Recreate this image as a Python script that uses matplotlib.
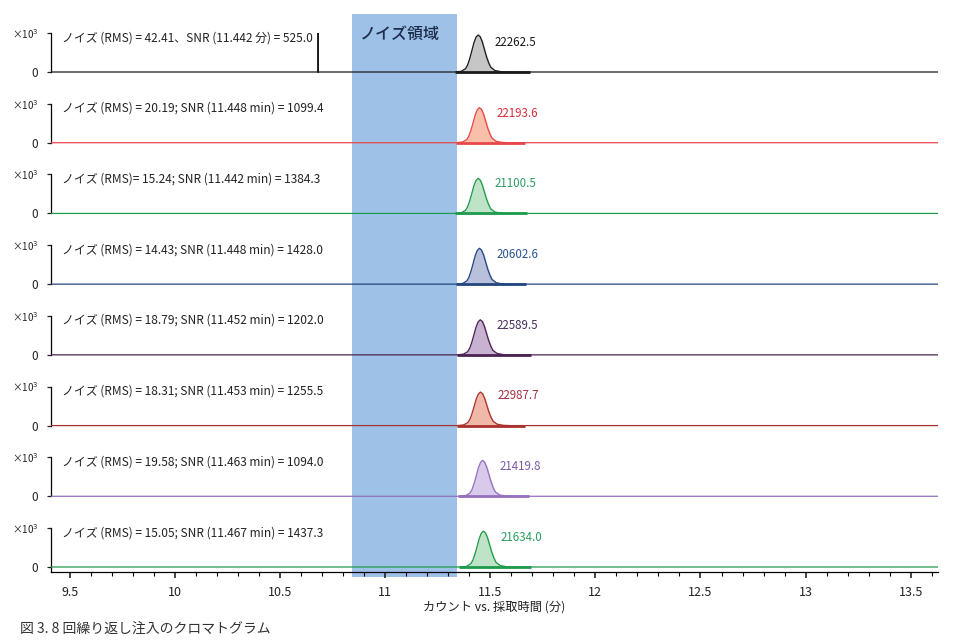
import matplotlib
matplotlib.use("Agg")
import matplotlib.pyplot as plt
import matplotlib.patches as mpatches
import matplotlib.ticker as ticker
from matplotlib.transforms import blended_transform_factory

plt.rcParams["font.family"] = ["Noto Sans CJK JP", "DejaVu Sans"]

# ---- data ------------------------------------------------------------
noise_texts = [
    "ノイズ (RMS) = 42.41、SNR (11.442 分) = 525.0",
    "ノイズ (RMS) = 20.19; SNR (11.448 min) = 1099.4",
    "ノイズ (RMS)= 15.24; SNR (11.442 min) = 1384.3",
    "ノイズ (RMS) = 14.43; SNR (11.448 min) = 1428.0",
    "ノイズ (RMS) = 18.79; SNR (11.452 min) = 1202.0",
    "ノイズ (RMS) = 18.31; SNR (11.453 min) = 1255.5",
    "ノイズ (RMS) = 19.58; SNR (11.463 min) = 1094.0",
    "ノイズ (RMS) = 15.05; SNR (11.467 min) = 1437.3",
]
peak_areas = ["22262.5", "22193.6", "21100.5", "20602.6",
              "22589.5", "22987.7", "21419.8", "21634.0"]
apex_times = [11.442, 11.448, 11.442, 11.448, 11.452, 11.453, 11.463, 11.467]
peak_heights = [0.95, 0.90, 0.90, 0.92, 0.90, 0.86, 0.92, 0.92]   # x10^3
int_start = [11.330, 11.336, 11.334, 11.338, 11.340, 11.341, 11.348, 11.352]
int_end = [11.690, 11.665, 11.675, 11.670, 11.695, 11.665, 11.685, 11.695]

# peak profile (offset from apex in min, relative height)
peak_dt = [-0.11, -0.08, -0.06, -0.05, -0.04, -0.03, -0.02, -0.01, 0.0,
           0.01, 0.02, 0.03, 0.04, 0.05, 0.06, 0.08, 0.11, 0.14]
peak_rel = [0.0, 0.02, 0.09, 0.19, 0.36, 0.57, 0.79, 0.94, 1.0,
            0.95, 0.81, 0.61, 0.41, 0.25, 0.13, 0.04, 0.008, 0.0]

spike_time = 10.681    # spike in first trace
spike_height = 1.0

t_min, t_max = 9.41, 13.63
noise_region = (10.84, 11.34)

line_colors = ["#1a1a1a", "#e8474a", "#1e9a4e", "#24467e",
               "#4b2352", "#a8322e", "#9470bf", "#1f9a4d"]
fill_colors = ["#c6c6c6", "#f9bfa8", "#bfe3c7", "#b9c0dc",
               "#c8b2d2", "#efb8a8", "#d9c9ea", "#bfe3c7"]
label_colors = ["#1a1a1a", "#d42d3c", "#2b9c62", "#2a5396",
                "#4a2f5e", "#a83040", "#7d5aa8", "#27a060"]

# ---- layout ----------------------------------------------------------
W, H = 964, 644
fig = plt.figure(figsize=(W / 100, H / 100), dpi=100)
left_px, right_px = 51, 938
zero_px = [72 + i * (567 - 72) / 7 for i in range(8)]
unit_px = 39.0
ybot = -0.13

axes = []
for i in range(8):
    y0 = zero_px[i]
    top = y0 - unit_px
    bottom = y0 - ybot * unit_px
    ax = fig.add_axes([left_px / W, 1 - bottom / H,
                       (right_px - left_px) / W, (bottom - top) / H])
    ax.set_facecolor("none")
    axes.append(ax)

for i, ax in enumerate(axes):
    apex = apex_times[i]
    h = peak_heights[i]
    pk_t = [apex + d for d in peak_dt]
    pk_y = [h * r for r in peak_rel]
    if i == 0:
        t = [t_min, spike_time, spike_time, spike_time] + pk_t + [t_max]
        y = [0.0, 0.0, spike_height, 0.0] + pk_y + [0.0]
    else:
        t = [t_min] + pk_t + [t_max]
        y = [0.0] + pk_y + [0.0]
    ax.plot(t, y, color=line_colors[i], lw=0.9, zorder=3)
    ax.fill_between(pk_t, 0, pk_y, color=fill_colors[i], zorder=2)
    ax.plot([int_start[i], int_end[i]], [0, 0], color=line_colors[i],
            lw=2.0, zorder=4, solid_capstyle="butt")

    ax.text(9.462, 0.88, noise_texts[i], fontsize=8.6, color="#222222",
            va="center", ha="left")
    ax.text(apex + 0.08, 0.76, peak_areas[i], fontsize=8.3,
            color=label_colors[i], va="center", ha="left")

    ax.set_xlim(t_min, t_max)
    ax.set_ylim(ybot, 1.0)
    for s in ["top", "right", "bottom"]:
        ax.spines[s].set_visible(False)
    ax.spines["left"].set_linewidth(0.9)
    ax.spines["left"].set_bounds(0 if i < 7 else ybot, 1.0)
    ax.set_yticks([0, 1])
    labs = ax.set_yticklabels(["0", "×10$^3$"])
    labs[0].set_fontsize(8.5)
    labs[1].set_fontsize(7)
    ax.tick_params(axis="y", length=3, width=0.9, pad=6, colors="#222222")
    if i < 7:
        ax.set_xticks([])
    else:
        ax.spines["bottom"].set_visible(True)
        ax.spines["bottom"].set_linewidth(0.9)
        ax.xaxis.set_major_locator(ticker.MultipleLocator(0.5))
        ax.xaxis.set_minor_locator(ticker.MultipleLocator(0.1))
        ax.xaxis.set_major_formatter(ticker.FuncFormatter(lambda v, p: f"{v:g}"))
        ax.tick_params(axis="x", which="major", length=4, width=1.2,
                       labelsize=9, pad=6, colors="#222222")
        ax.tick_params(axis="x", which="minor", length=3, width=0.8)
        ax.set_xlabel("カウント vs. 採取時間 (分)", fontsize=8.8, labelpad=1,
                      color="#222222")

# noise region band across all panels
trans = blended_transform_factory(axes[-1].transData, fig.transFigure)
band = mpatches.Rectangle((noise_region[0], 1 - 577 / H),
                          noise_region[1] - noise_region[0], (577 - 14) / H,
                          transform=trans, facecolor="#9dc1e7",
                          edgecolor="none", zorder=-1)
fig.patches.append(band)
axes[0].text(sum(noise_region) / 2 - 0.02, 0.97, "ノイズ領域", fontsize=11.5,
             color="#1d2b4c", ha="center", va="center", clip_on=False,
             fontweight="medium")

fig.text(20 / W, 1 - 629 / H, "図 3. 8 回繰り返し注入のクロマトグラム",
         fontsize=10, color="#333333", ha="left", va="center")

fig.savefig("out.png", dpi=100)
